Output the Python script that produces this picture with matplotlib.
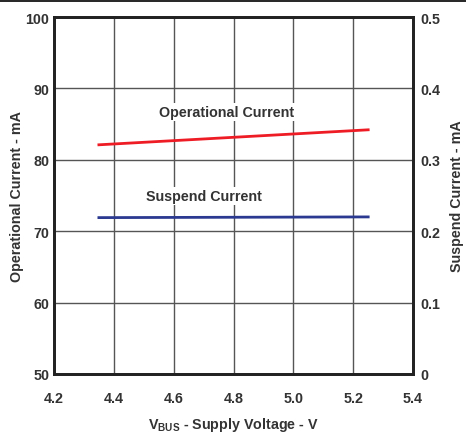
import matplotlib
matplotlib.use("Agg")
import matplotlib.pyplot as plt
from matplotlib.lines import Line2D

plt.rcParams['font.family'] = ['Liberation Sans', 'DejaVu Sans']
plt.rcParams['font.weight'] = 'bold'
plt.rcParams['axes.labelweight'] = 'bold'
plt.rcParams['mathtext.fontset'] = 'custom'
plt.rcParams['mathtext.rm'] = 'Liberation Sans:bold'
plt.rcParams['mathtext.bf'] = 'Liberation Sans:bold'

# data
vbus = [4.35, 5.25]
operational_ma = [82.1, 84.2]
suspend_ma = [0.219, 0.220]

x_ticks = [4.2, 4.4, 4.6, 4.8, 5.0, 5.2, 5.4]
left_ticks = [50, 60, 70, 80, 90, 100]
right_ticks = [0, 0.1, 0.2, 0.3, 0.4, 0.5]

text_col = '#333333'
grid_col = '#555555'
fs = 10.3

fig = plt.figure(figsize=(4.66, 4.35), dpi=100)
ax = fig.add_axes([0.1159, 0.138, 0.7705, 0.8206])
ax2 = ax.twinx()

ax.plot(vbus, operational_ma, color='#ee1c25', lw=2, zorder=3)
ax2.plot(vbus, suspend_ma, color='#2b3990', lw=2, zorder=3)

ax.set_xlim(4.2, 5.4)
ax.set_ylim(50, 100)
ax2.set_ylim(0, 0.5)
ax.set_xticks(x_ticks)
ax.set_xticklabels([f'{v:.1f}' for v in x_ticks])
ax.set_yticks(left_ticks)
ax.set_yticklabels([str(v) for v in left_ticks])
ax2.set_yticks(right_ticks)
ax2.set_yticklabels(['0' if v == 0 else f'{v:.1f}' for v in right_ticks])

ax.grid(True, color=grid_col, lw=1)
ax.set_axisbelow(True)

for a in (ax, ax2):
    a.tick_params(length=0, labelsize=fs, labelcolor=text_col)
    for s in a.spines.values():
        s.set_linewidth(2)
        s.set_color('#222222')
ax.tick_params(axis='x', pad=12)
ax.tick_params(axis='y', pad=3.5)
ax2.tick_params(axis='y', pad=5)

ax.set_ylabel('Operational Current - mA', fontsize=fs, color=text_col, va='center')
ax2.set_ylabel('Suspend Current - mA', fontsize=fs, color=text_col, va='center')
ax.set_xlabel(r'V$_{\mathbf{BUS}}$ - Supply Voltage - V', fontsize=fs, color=text_col, va='center')
ax.yaxis.set_label_coords(-0.103, 0.5)
ax2.yaxis.set_label_coords(1.1226, 0.5)
ax.xaxis.set_label_coords(0.5, -0.14)

box = dict(facecolor='white', edgecolor='none', pad=1.5)
ax.text(4.777, 86.7, 'Operational Current', ha='center', va='center',
        fontsize=fs, color=text_col, bbox=box, zorder=4)
ax.text(4.70, 74.9, 'Suspend Current', ha='center', va='center',
        fontsize=fs, color=text_col, bbox=box, zorder=4)

fig.add_artist(Line2D([0, 1], [0.995, 0.995], transform=fig.transFigure,
                      color='black', lw=1.2))

fig.savefig('out.png', dpi=100)
